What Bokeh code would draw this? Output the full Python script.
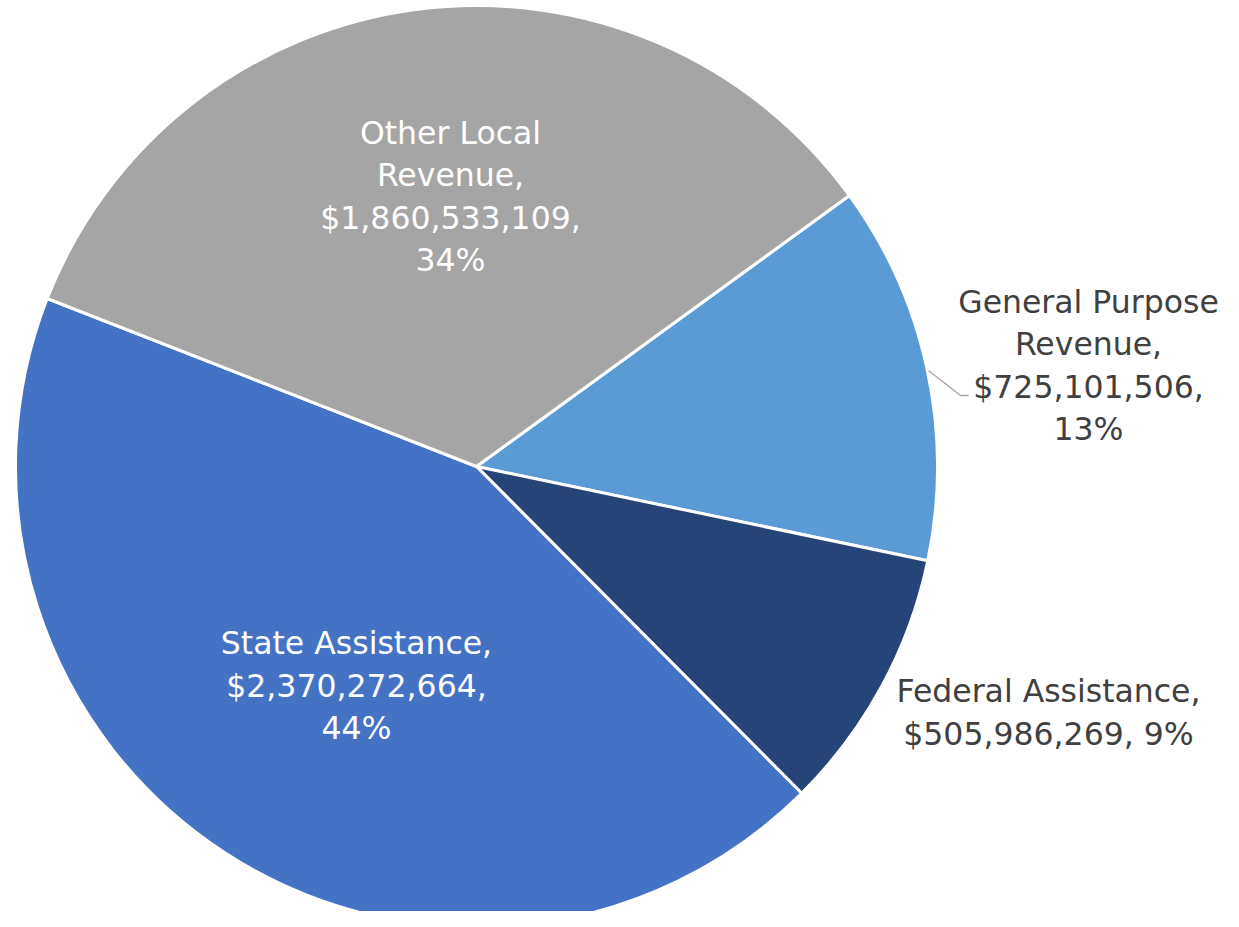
import math
from bokeh.plotting import figure
from bokeh.models import Range1d
from bokeh.core.properties import value
from bokeh.embed import file_html
from bokeh.resources import INLINE

# ---- data ----
categories = ["General Purpose Revenue", "Federal Assistance", "State Assistance", "Other Local Revenue"]
amounts = [725101506, 505986269, 2370272664, 1860533109]
colors = ["#5B9BD5", "#264478", "#4472C4", "#A5A5A5"]
label_lines = [
    ["General Purpose", "Revenue,", "$725,101,506,", "13%"],
    ["Federal Assistance,", "$505,986,269, 9%"],
    ["State Assistance,", "$2,370,272,664,", "44%"],
    ["Other Local", "Revenue,", "$1,860,533,109,", "34%"],
]
label_colors = ["#404040", "#404040", "white", "white"]

# ---- style / layout ----
W, H = 1223, 911
cx, cy, R = 476, 461, 461
start_deg = 36.0
label_dx = [612, 572, -120, -26]
label_dy = [101, -246, -219, 270]
line_h = 42.5
FONT = "DejaVu Sans"

p = figure(width=W, height=H, output_backend="svg", toolbar_location=None,
           x_range=Range1d(0, W), y_range=Range1d(927 - H, 927),
           min_border=0, outline_line_color=None, background_fill_color="white",
           border_fill_color="white")
p.axis.visible = False
p.grid.visible = False

total = float(sum(amounts))
cum = 0.0
starts, ends = [], []
for a in amounts:
    a0 = math.radians(start_deg) - 2 * math.pi * cum / total
    cum += a
    a1 = math.radians(start_deg) - 2 * math.pi * cum / total
    starts.append(a1)
    ends.append(a0)

p.wedge(x=[cx] * 4, y=[cy] * 4, radius=R, start_angle=starts, end_angle=ends,
        fill_color=colors, line_color="white", line_width=3)

# leader line for General Purpose label
p.line(x=[cx + 452, cx + 484, cx + 492], y=[cy + 96, cy + 71, cy + 71],
       line_color="#A6A6A6", line_width=1.3)

for i, lines in enumerate(label_lines):
    n = len(lines)
    bx = cx + label_dx[i]
    by = cy + label_dy[i]
    xs, ys = [], []
    for j, t in enumerate(lines):
        xs.append(bx)
        ys.append(by + (n - 1) / 2 * line_h - j * line_h)
    p.text(x=xs, y=ys, text=lines, text_align="center", text_baseline="alphabetic",
           text_font=value(FONT), text_font_size="31.5px", text_color=label_colors[i])

open("out.html", "w").write(file_html(p, INLINE))
